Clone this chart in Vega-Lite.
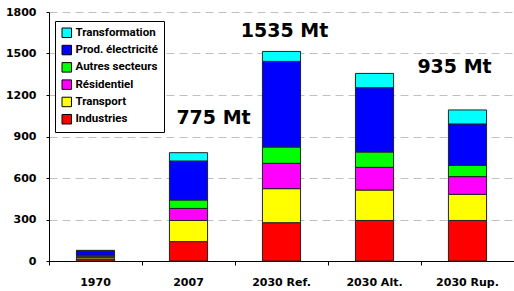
{
  "$schema": "https://vega.github.io/schema/vega-lite/v6.json",
  "autosize": "none",
  "width": 465,
  "height": 249,
  "padding": {"left": 49, "top": 12, "right": 0, "bottom": 30},
  "background": "white",
  "config": {
    "view": {"stroke": null},
    "font": "DejaVu Sans",
    "legend": {"labelFont": "Roboto", "labelFontWeight": "bold", "labelFontSize": 11.5, "labelColor": "black"},
    "axis": {"labelFont": "DejaVu Sans"}
  },
  "datasets": {
    "bars": [
      {"scenario": "1970", "secteur": "Industries", "ord": 1, "mt": 15},
      {"scenario": "1970", "secteur": "Transport", "ord": 2, "mt": 12},
      {"scenario": "1970", "secteur": "Résidentiel", "ord": 3, "mt": 8},
      {"scenario": "1970", "secteur": "Autres secteurs", "ord": 4, "mt": 7},
      {"scenario": "1970", "secteur": "Prod. électricité", "ord": 5, "mt": 30},
      {"scenario": "1970", "secteur": "Transformation", "ord": 6, "mt": 5},
      {"scenario": "2007", "secteur": "Industries", "ord": 1, "mt": 140},
      {"scenario": "2007", "secteur": "Transport", "ord": 2, "mt": 153},
      {"scenario": "2007", "secteur": "Résidentiel", "ord": 3, "mt": 87},
      {"scenario": "2007", "secteur": "Autres secteurs", "ord": 4, "mt": 61},
      {"scenario": "2007", "secteur": "Prod. électricité", "ord": 5, "mt": 282},
      {"scenario": "2007", "secteur": "Transformation", "ord": 6, "mt": 60},
      {"scenario": "2030 Ref.", "secteur": "Industries", "ord": 1, "mt": 277},
      {"scenario": "2030 Ref.", "secteur": "Transport", "ord": 2, "mt": 246},
      {"scenario": "2030 Ref.", "secteur": "Résidentiel", "ord": 3, "mt": 183},
      {"scenario": "2030 Ref.", "secteur": "Autres secteurs", "ord": 4, "mt": 118},
      {"scenario": "2030 Ref.", "secteur": "Prod. électricité", "ord": 5, "mt": 619},
      {"scenario": "2030 Ref.", "secteur": "Transformation", "ord": 6, "mt": 72},
      {"scenario": "2030 Alt.", "secteur": "Industries", "ord": 1, "mt": 293},
      {"scenario": "2030 Alt.", "secteur": "Transport", "ord": 2, "mt": 220},
      {"scenario": "2030 Alt.", "secteur": "Résidentiel", "ord": 3, "mt": 164},
      {"scenario": "2030 Alt.", "secteur": "Autres secteurs", "ord": 4, "mt": 111},
      {"scenario": "2030 Alt.", "secteur": "Prod. électricité", "ord": 5, "mt": 465},
      {"scenario": "2030 Alt.", "secteur": "Transformation", "ord": 6, "mt": 103},
      {"scenario": "2030 Rup.", "secteur": "Industries", "ord": 1, "mt": 293},
      {"scenario": "2030 Rup.", "secteur": "Transport", "ord": 2, "mt": 189},
      {"scenario": "2030 Rup.", "secteur": "Résidentiel", "ord": 3, "mt": 128},
      {"scenario": "2030 Rup.", "secteur": "Autres secteurs", "ord": 4, "mt": 81},
      {"scenario": "2030 Rup.", "secteur": "Prod. électricité", "ord": 5, "mt": 300},
      {"scenario": "2030 Rup.", "secteur": "Transformation", "ord": 6, "mt": 101}
    ],
    "labels": [
      {"scenario": "2007", "pos": 1036, "txt": "775 Mt"},
      {"scenario": "2030 Ref.", "pos": 1660, "txt": "1535 Mt"},
      {"scenario": "2030 Rup.", "pos": 1401, "txt": "935 Mt"}
    ]
  },
  "layer": [
    {
      "data": {"name": "bars"},
      "mark": {"type": "bar", "width": {"band": 0.41}, "stroke": "#222222", "strokeWidth": 1},
      "encoding": {
        "x": {
          "field": "scenario", "type": "nominal",
          "sort": ["1970", "2007", "2030 Ref.", "2030 Alt.", "2030 Rup."],
          "scale": {"paddingInner": 0, "paddingOuter": 0, "domain": ["1970", "2007", "2030 Ref.", "2030 Alt.", "2030 Rup."]},
          "axis": {
            "title": null, "labelAngle": 0, "bandPosition": 0,
            "domainColor": "black", "tickColor": "black", "tickSize": 4,
            "labelFont": "DejaVu Sans", "labelFontWeight": "bold", "labelFontSize": 11,
            "labelColor": "black", "labelPadding": 11
          }
        },
        "y": {
          "field": "mt", "type": "quantitative", "stack": "zero",
          "scale": {"domain": [0, 1800], "nice": false},
          "axis": {
            "title": null, "values": [0, 300, 600, 900, 1200, 1500, 1800], "format": "d",
            "domainColor": "black", "tickColor": "black", "tickSize": 3,
            "grid": true, "gridColor": "#c0c0c0", "gridDash": [8, 5], "gridWidth": 1,
            "labelFont": "DejaVu Sans", "labelFontWeight": "bold", "labelFontSize": 11,
            "labelColor": "black", "labelPadding": 10
          }
        },
        "color": {
          "field": "secteur", "type": "nominal",
          "scale": {
            "domain": ["Transformation", "Prod. électricité", "Autres secteurs", "Résidentiel", "Transport", "Industries"],
            "range": ["#00FFFF", "#0000FF", "#00FF00", "#FF00FF", "#FFFF00", "#FF0000"]
          },
          "legend": {
            "title": null, "orient": "none", "legendX": 6, "legendY": 9,
            "symbolType": "square", "symbolSize": 90, "symbolStrokeColor": "black", "symbolStrokeWidth": 1,
            "symbolOpacity": 1,
            "labelOffset": 3, "rowPadding": 3.3,
            "fillColor": "white", "strokeColor": "black", "padding": 6
          }
        },
        "order": {"field": "ord", "type": "quantitative", "sort": "ascending"}
      }
    },
    {
      "data": {"name": "labels"},
      "transform": [{"filter": "datum.scenario == '2007'"}],
      "mark": {"type": "text", "font": "DejaVu Sans", "fontWeight": "bold", "fontSize": 19, "color": "black", "align": "center", "baseline": "middle", "dx": 25},
      "encoding": {
        "x": {"field": "scenario", "type": "nominal", "sort": ["1970", "2007", "2030 Ref.", "2030 Alt.", "2030 Rup."]},
        "y": {"field": "pos", "type": "quantitative"},
        "text": {"field": "txt"}
      }
    },
    {
      "data": {"name": "labels"},
      "transform": [{"filter": "datum.scenario == '2030 Ref.'"}],
      "mark": {"type": "text", "font": "DejaVu Sans", "fontWeight": "bold", "fontSize": 19, "color": "black", "align": "center", "baseline": "middle", "dx": 3},
      "encoding": {
        "x": {"field": "scenario", "type": "nominal", "sort": ["1970", "2007", "2030 Ref.", "2030 Alt.", "2030 Rup."]},
        "y": {"field": "pos", "type": "quantitative"},
        "text": {"field": "txt"}
      }
    },
    {
      "data": {"name": "labels"},
      "transform": [{"filter": "datum.scenario == '2030 Rup.'"}],
      "mark": {"type": "text", "font": "DejaVu Sans", "fontWeight": "bold", "fontSize": 19, "color": "black", "align": "center", "baseline": "middle", "dx": -13},
      "encoding": {
        "x": {"field": "scenario", "type": "nominal", "sort": ["1970", "2007", "2030 Ref.", "2030 Alt.", "2030 Rup."]},
        "y": {"field": "pos", "type": "quantitative"},
        "text": {"field": "txt"}
      }
    }
  ]
}
